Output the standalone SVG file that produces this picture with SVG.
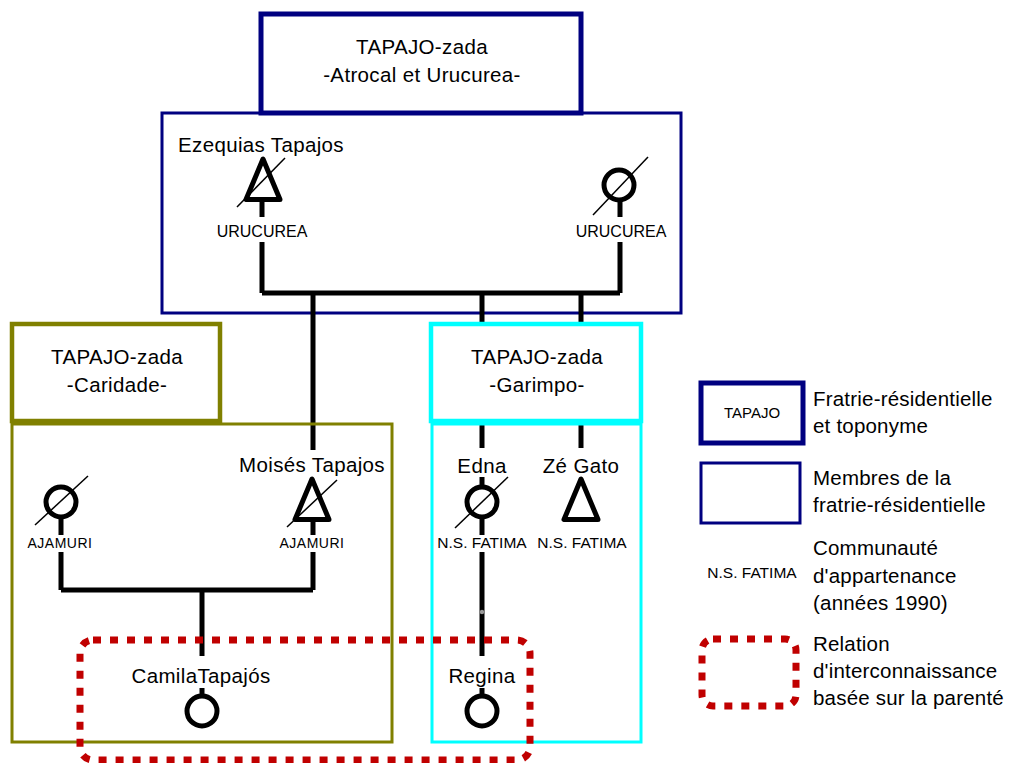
<svg xmlns="http://www.w3.org/2000/svg" width="1015" height="763" viewBox="0 0 1015 763">
<style>
  text { font-family: "Liberation Sans", Arial, sans-serif; fill: #000; }
  .big { font-size: 20.5px; text-anchor: middle; letter-spacing: 0.35px; }
  .leg { font-size: 20.5px; letter-spacing: 0.2px; }
  .comm { font-size: 15.5px; text-anchor: middle; }
  .uru { font-size: 16px; text-anchor: middle; }
  .aja { font-size: 14px; text-anchor: middle; letter-spacing: 0.5px; }
  .line { stroke: #000; stroke-width: 5; fill: none; stroke-linecap: butt; }
  .sym { stroke: #000; stroke-width: 5; fill: #fff; stroke-linejoin: round; }
  .slash { stroke: #000; stroke-width: 1.5; }
  .navyT { fill: #fff; stroke: #000080; stroke-width: 5; }
  .navyM { fill: none; stroke: #000080; stroke-width: 3; }
  .oliveT { fill: #fff; stroke: #808000; stroke-width: 4.5; }
  .oliveM { fill: none; stroke: #808000; stroke-width: 3; }
  .cyanT { fill: #fff; stroke: #00FFFF; stroke-width: 4.5; }
  .cyanM { fill: none; stroke: #00FFFF; stroke-width: 3; }
  .rel { fill: none; stroke: #C00000; stroke-width: 7; stroke-dasharray: 8 9; }
</style>
<defs>
  <path id="tri" d="M0,-21 L-17,19.5 L17,19.5 Z"/>
</defs>
<rect width="1015" height="763" fill="#fff"/>

<!-- members box of Atrocal/Urucurea -->
<g id="members-atrocal">
  <rect class="navyM" x="162" y="113" width="519" height="200"/>
</g>

<!-- connectors -->
<g id="connectors">
  <path class="line" d="M262,199 V217 M262,242 V293 M620,199 V217 M620,242 V293 M262,293 H620"/>
  <path class="line" d="M313,293 V450 M482,293 V448 M581,293 V448"/>
  <path class="line" d="M313,519 V535 M313,552 V590 M61,517 V535 M61,552 V590 M61,590 H313 M202,590 V656 M202,688 V697"/>
  <path class="line" d="M482,477 V488 M482,517 V535 M482,552 V656 M482,688 V697"/>
  <circle cx="482" cy="612" r="2.2" fill="#999"/>
</g>

<g id="title-atrocal">
  <rect class="navyT" x="261" y="14" width="320" height="99"/>
  <text class="big" x="422" y="54">TAPAJO-zada</text>
  <text class="big" x="422" y="82">-Atrocal et Urucurea-</text>
</g>

<g id="title-caridade">
  <rect class="oliveT" x="12" y="324" width="208" height="97"/>
  <text class="big" x="117" y="364">TAPAJO-zada</text>
  <text class="big" x="117" y="392">-Caridade-</text>
</g>
<g id="members-caridade">
  <rect class="oliveM" x="12" y="424" width="380" height="318"/>
</g>

<g id="title-garimpo">
  <rect class="cyanT" x="431" y="324" width="210" height="97"/>
  <text class="big" x="537" y="364">TAPAJO-zada</text>
  <text class="big" x="537" y="392">-Garimpo-</text>
</g>
<g id="members-garimpo">
  <rect class="cyanM" x="432" y="424" width="209" height="318"/>
</g>

<!-- persons -->
<g id="ezequias">
  <text class="big" x="261" y="152">Ezequias Tapajos</text>
  <use href="#tri" class="sym" x="263" y="180"/>
  <line class="slash" x1="237" y1="207" x2="285" y2="158"/>
  <text class="uru" x="262" y="237">URUCUREA</text>
</g>
<g id="wife-urucurea">
  <circle class="sym" cx="619" cy="185" r="15"/>
  <line class="slash" x1="593" y1="215" x2="648" y2="157"/>
  <text class="uru" x="621" y="237">URUCUREA</text>
</g>
<g id="wife-ajamuri">
  <circle class="sym" cx="61" cy="502" r="15"/>
  <line class="slash" x1="35" y1="525" x2="88" y2="476"/>
  <text class="aja" x="60" y="548">AJAMURI</text>
</g>
<g id="moises">
  <text class="big" x="312" y="472">Moisés Tapajos</text>
  <use href="#tri" class="sym" x="312" y="500"/>
  <line class="slash" x1="287" y1="527" x2="337" y2="480"/>
  <text class="aja" x="312" y="548">AJAMURI</text>
</g>
<g id="edna">
  <text class="big" x="482" y="473">Edna</text>
  <circle class="sym" cx="482" cy="502" r="15"/>
  <line class="slash" x1="455" y1="528" x2="508" y2="477"/>
  <text class="comm" x="482" y="548">N.S. FATIMA</text>
</g>
<g id="ze-gato">
  <text class="big" x="581" y="473">Zé Gato</text>
  <use href="#tri" class="sym" x="581" y="500"/>
  <text class="comm" x="582" y="548">N.S. FATIMA</text>
</g>
<g id="camila">
  <text class="big" x="201" y="683">CamilaTapajós</text>
  <circle class="sym" cx="202" cy="711" r="15"/>
</g>
<g id="regina">
  <text class="big" x="482" y="683">Regina</text>
  <circle class="sym" cx="482" cy="711" r="15"/>
</g>

<g id="relation">
  <rect class="rel" x="80" y="640" width="450" height="120" rx="13"/>
</g>

<!-- legend -->
<g id="legend-fratrie">
  <rect class="navyT" x="701" y="383" width="102" height="60"/>
  <text x="752" y="418" font-size="15" text-anchor="middle">TAPAJO</text>
  <text class="leg" x="813" y="406">Fratrie-résidentielle</text>
  <text class="leg" x="813" y="433">et toponyme</text>
</g>
<g id="legend-membres">
  <rect class="navyM" x="701" y="463" width="99" height="60"/>
  <text class="leg" x="813" y="485">Membres de la</text>
  <text class="leg" x="813" y="512">fratrie-résidentielle</text>
</g>
<g id="legend-communaute">
  <text class="comm" x="752" y="578">N.S. FATIMA</text>
  <text class="leg" x="813" y="555">Communauté</text>
  <text class="leg" x="813" y="583">d'appartenance</text>
  <text class="leg" x="813" y="610">(années 1990)</text>
</g>
<g id="legend-relation">
  <rect class="rel" x="702" y="639" width="94" height="67" rx="11"/>
  <text class="leg" x="813" y="651">Relation</text>
  <text class="leg" x="813" y="678">d'interconnaissance</text>
  <text class="leg" x="813" y="705">basée sur la parenté</text>
</g>
</svg>
